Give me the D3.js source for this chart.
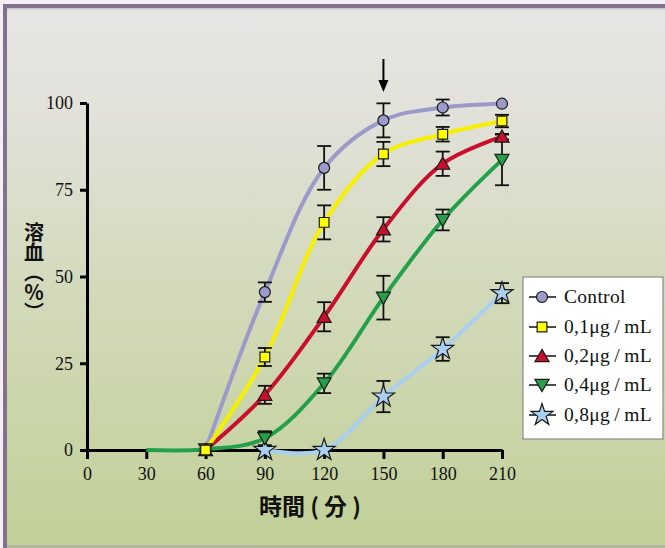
<!DOCTYPE html>
<html><head><meta charset="utf-8">
<script src="https://cdn.jsdelivr.net/npm/d3@7"></script>
<style>html,body{margin:0;padding:0;background:#fff;}svg{display:block;}</style>
</head><body>
<svg id="c" width="665" height="548"></svg>
<script>
const times = [0, 30, 60, 90, 120, 150, 180, 210];
const xTicks = [0, 30, 60, 90, 120, 150, 180, 210];
const yTicks = [0, 25, 50, 75, 100];
const seriesNames = ["Control", "0,1μg\u2009/\u2009mL", "0,2μg\u2009/\u2009mL", "0,4μg\u2009/\u2009mL", "0,8μg\u2009/\u2009mL"];
const controlVals = [null, null, 0, 45.5, 81.3, 95.0, 98.7, 99.8];
const controlErr  = [null, null, 0, 2.8, 6.3, 4.9, 2.3, 0];
const d01Vals = [null, null, 0, 26.8, 65.6, 85.3, 91.0, 94.8];
const d01Err  = [null, null, 0, 2.6, 4.9, 3.5, 2.1, 1.8];
const d02Vals = [null, null, 0, 15.9, 38.4, 63.6, 82.5, 90.3];
const d02Err  = [null, null, 0, 2.6, 4.2, 3.5, 3.5, 0.8];
const d04Vals = [null, 0, 0.2, 3.4, 19.2, 43.9, 66.3, 83.6];
const d04Err  = [null, 0, 0, 2.0, 2.8, 6.3, 3.0, 7.3];
const d08Vals = [null, null, null, 0, 0, 15.4, 29.1, 45.2];
const d08Err  = [null, null, null, 0, 0, 4.5, 3.4, 2.9];
const arrowAt = 150;

const svg = d3.select("#c");
const defs = svg.append("defs");
const g = defs.append("linearGradient").attr("id","bg").attr("x1",0).attr("y1",0).attr("x2",0).attr("y2",1);
g.append("stop").attr("offset","0%").attr("stop-color","#e7e5e3");
g.append("stop").attr("offset","18%").attr("stop-color","#e2e2db");
g.append("stop").attr("offset","50%").attr("stop-color","#d4dabd");
g.append("stop").attr("offset","100%").attr("stop-color","#c1d097");

svg.append("rect").attr("width",665).attr("height",548).attr("fill","#f6eef4");
svg.append("rect").attr("x",7).attr("y",8).attr("width",658).attr("height",537).attr("fill","url(#bg)");
svg.append("rect").attr("x",3).attr("y",4).attr("width",662).attr("height",4).attr("fill","#84718d");
svg.append("rect").attr("x",3).attr("y",4).attr("width",4).attr("height",544).attr("fill","#84718d");
svg.append("rect").attr("x",7).attr("y",8).attr("width",658).attr("height",1.5).attr("fill","#c9c6c8");
svg.append("rect").attr("x",7).attr("y",545).attr("width",658).attr("height",3).attr("fill","#b3b59f");

const x = d3.scaleLinear().domain([0,210]).range([87,502]);
const y = d3.scaleLinear().domain([0,100]).range([450,103]);

const series = [
  {name: seriesNames[4], vals: d08Vals, err: d08Err, color:"#a9d0f0", fill:"#a9d0f0", sym:"star", markFrom: 90},
  {name: seriesNames[3], vals: d04Vals, err: d04Err, color:"#24a04a", fill:"#24a04a", sym:"tridown", markFrom: 60},
  {name: seriesNames[2], vals: d02Vals, err: d02Err, color:"#c8102e", fill:"#c8102e", sym:"tri", markFrom: 60},
  {name: seriesNames[0], vals: controlVals, err: controlErr, color:"#9c99cb", fill:"#9c99cb", sym:"circle", markFrom: 60},
  {name: seriesNames[1], vals: d01Vals, err: d01Err, color:"#f6f000", fill:"#ffff00", sym:"square", markFrom: 60}
];

function symPath(s){
  if (s==="circle") return d3.symbol(d3.symbolCircle, 95)();
  if (s==="square") return d3.symbol(d3.symbolSquare, 95)();
  if (s==="tri" || s==="tridown") return d3.symbol(d3.symbolTriangle, 85)();
  if (s==="star") return d3.symbol(d3.symbolStar, 150)();
}
function drawSym(sel, s, fill, cx, cy){
  const p = sel.append("path").attr("d", symPath(s))
    .attr("fill", fill).attr("stroke","#1a1a1a").attr("stroke-width",1.2);
  if (s==="tri") p.attr("transform",`translate(${cx},${cy+1.5})`);
  else if (s==="tridown") p.attr("transform",`translate(${cx},${cy-1.5}) rotate(180)`);
  else p.attr("transform",`translate(${cx},${cy})`);
  return p;
}

// axes
const axisCol = "#000";
const ax = svg.append("g").attr("transform","translate(0,450)")
  .call(d3.axisBottom(x).tickValues(xTicks).tickSize(9).tickPadding(8).tickSizeOuter(0));
ax.select(".domain").attr("stroke",axisCol).attr("stroke-width",3);
ax.selectAll(".tick line").attr("stroke",axisCol).attr("stroke-width",3);
ax.selectAll("text").attr("font-family","'Liberation Serif', serif").attr("font-size",18).attr("fill","#111");

const ay = svg.append("g").attr("transform","translate(87,0)")
  .call(d3.axisLeft(y).tickValues(yTicks).tickSize(7).tickPadding(7).tickSizeOuter(0));
ay.select(".domain").attr("stroke",axisCol).attr("stroke-width",3);
ay.selectAll(".tick line").attr("stroke",axisCol).attr("stroke-width",3);
ay.selectAll("text").attr("font-family","'Liberation Serif', serif").attr("font-size",18).attr("fill","#111");

// lines
const line = d3.line().x(d=>x(d.t)).y(d=>y(d.v)).curve(d3.curveCatmullRom.alpha(0.5));
series.forEach(s=>{
  const pts = times.map((t,i)=>({t, v:s.vals[i]})).filter(d=>d.v!==null);
  svg.append("path").datum(pts).attr("d", line).attr("fill","none")
    .attr("stroke", s.color).attr("stroke-width",4).attr("stroke-linejoin","round");
});

// error bars
const eb = svg.append("g").attr("stroke","#111").attr("stroke-width",1.8);
series.forEach(s=>{
  times.forEach((t,i)=>{
    const v = s.vals[i], e = s.err[i];
    if (v===null || !e) return;
    const cx = x(t), y1 = y(v+e), y2 = y(v-e);
    eb.append("line").attr("x1",cx).attr("x2",cx).attr("y1",y1).attr("y2",y2);
    eb.append("line").attr("x1",cx-7).attr("x2",cx+7).attr("y1",y1).attr("y2",y1);
    eb.append("line").attr("x1",cx-7).attr("x2",cx+7).attr("y1",y2).attr("y2",y2);
  });
});

// markers
series.forEach(s=>{
  const gm = svg.append("g");
  times.forEach((t,i)=>{
    const v = s.vals[i];
    if (v===null || t < s.markFrom) return;
    drawSym(gm, s.sym, s.fill, x(t), y(v));
  });
});

// arrow
svg.append("line").attr("x1",x(arrowAt)).attr("x2",x(arrowAt)).attr("y1",59).attr("y2",82)
  .attr("stroke","#000").attr("stroke-width",2);
svg.append("path").attr("d",`M${x(arrowAt)-5},80 L${x(arrowAt)+5},80 L${x(arrowAt)},92 Z`).attr("fill","#000");

// axis titles
svg.append("text").attr("x",310).attr("y",515).attr("text-anchor","middle")
  .attr("font-family","'Noto Sans CJK TC', 'Noto Sans CJK SC', sans-serif").attr("font-weight","bold")
  .attr("font-size",23).attr("fill","#111").text("時間 ( 分 )");

svg.append("text").attr("x",34).attr("y",222)
  .style("writing-mode","vertical-rl").style("text-orientation","mixed")
  .attr("font-family","'Noto Sans CJK TC', sans-serif").attr("font-weight","bold")
  .attr("font-size",20).attr("fill","#111").text("溶血（％）");

// legend
const lg = svg.append("g");
lg.append("rect").attr("x",523).attr("y",277).attr("width",140).attr("height",162)
  .attr("fill","#fff").attr("stroke","#8a8a8a").attr("stroke-width",1.2);
const legOrder = [3,4,2,1,0];
const legY = [297, 327, 356, 385, 415];
legOrder.forEach((si,k)=>{
  const s = series[si];
  const cy = legY[k];
  lg.append("line").attr("x1",529).attr("x2",556).attr("y1",cy).attr("y2",cy).attr("stroke","#111").attr("stroke-width",1.5);
  drawSym(lg, s.sym, s.fill, 542, cy);
  lg.append("text").attr("x",564).attr("y",cy+6).attr("font-family","'Liberation Serif', serif")
    .attr("font-size",19.5).attr("letter-spacing",0.3).attr("fill","#111").text(s.name);
});
</script>
</body></html>
